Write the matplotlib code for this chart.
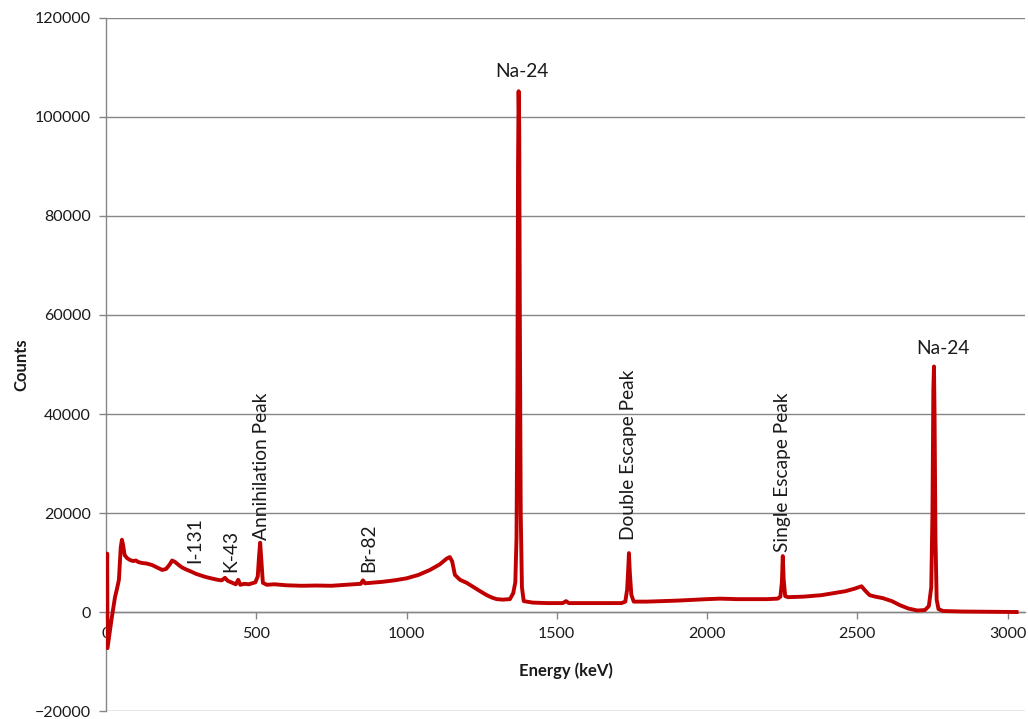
import matplotlib.pyplot as plt

plt.rcParams['font.family'] = ['Lato', 'DejaVu Sans']

# spectrum (keV, counts)
energy = [0, 4, 5, 19, 30, 37, 43, 49, 53, 57, 62, 70, 80, 90, 100, 107, 120,
          135, 153, 170, 187, 200, 212, 220, 230, 242, 253, 270, 286, 300,
          315, 330, 350, 372, 385, 396, 405, 420, 432, 440, 447, 460, 475,
          497, 505, 509, 513, 517, 522, 535, 560, 600, 650, 700, 750, 800,
          830, 848, 855, 862, 880, 920, 960, 1000, 1040, 1078, 1110, 1134,
          1144, 1152, 1161, 1178, 1200, 1221, 1245, 1267, 1285, 1300, 1320,
          1344, 1355, 1362, 1366, 1369, 1371, 1373, 1375, 1377, 1380, 1384,
          1390, 1420, 1470, 1520, 1531, 1540, 1600, 1660, 1715, 1728, 1734,
          1738, 1740, 1743, 1748, 1756, 1800, 1900, 2000, 2043, 2100, 2199,
          2235, 2244, 2249, 2252, 2255, 2260, 2270, 2320, 2380, 2419, 2460,
          2490, 2505, 2514, 2525, 2541, 2560, 2585, 2615, 2641, 2670, 2700,
          2725, 2738, 2746, 2750, 2753, 2755, 2757, 2760, 2764, 2770, 2785,
          2850, 2950, 3030]
counts = [0, 11800, -7300, -1250, 3000, 4800, 6500, 13000, 14600, 13500,
          11500, 10900, 10500, 10300, 10400, 10100, 9900, 9800, 9500, 9000,
          8500, 8700, 9600, 10400, 10100, 9500, 9000, 8500, 8100, 7700, 7400,
          7100, 6800, 6500, 6400, 6900, 6300, 5900, 5600, 6500, 5500, 5700,
          5600, 6000, 7200, 11000, 14000, 10500, 5900, 5500, 5600, 5400,
          5300, 5350, 5300, 5500, 5600, 5700, 6400, 5800, 5900, 6100, 6400,
          6800, 7500, 8500, 9600, 10800, 11100, 10200, 7500, 6500, 5900,
          5100, 4200, 3400, 2900, 2600, 2500, 2600, 3800, 6000, 15000, 45000,
          90000, 105200, 98000, 60000, 20000, 5000, 2200, 1900, 1800, 1800,
          2200, 1800, 1800, 1800, 1800, 2100, 4500, 9000, 11900, 8000, 3500,
          2100, 2100, 2300, 2600, 2700, 2600, 2600, 2700, 3100, 6000, 11300,
          6500, 3200, 3000, 3100, 3400, 3800, 4200, 4700, 5000, 5200, 4400,
          3400, 3100, 2800, 2200, 1400, 700, 300, 400, 1200, 5000, 20000,
          45000, 49600, 40000, 15000, 2500, 600, 200, 100, 50, 0]

# labels: text, energy, counts, rotation
labels = ['I-131', 'K-43', 'Annihilation Peak', 'Br-82', 'Na-24',
          'Double Escape Peak', 'Single Escape Peak', 'Na-24']
label_e = [297, 414, 518, 873, 1384, 1739, 2250, 2785]
label_c = [9900, 8100, 14600, 8100, 107500, 14600, 12100, 51500]
label_rot = [90, 90, 90, 90, 0, 90, 90, 0]

grey = '#868686'

fig = plt.figure(figsize=(10.28, 7.19), dpi=100)
ax = fig.add_axes([0.1031, 0.0111, 0.894, 0.9639])

ax.plot(energy, counts, color='#C00000', lw=2.8, solid_joinstyle='round',
        zorder=3)

for t, e, c, r in zip(labels, label_e, label_c, label_rot):
    ax.text(e, c, t, rotation=r, ha='center', va='bottom', fontsize=13.8,
            color='#1a1a1a', zorder=4)

ax.set_xlim(0, 3058)
ax.set_ylim(-20000, 120000)
ax.set_xticks(range(0, 3001, 500))
ax.set_yticks(range(-20000, 120001, 20000))

ax.grid(axis='y', color=grey, lw=1)
ax.set_axisbelow(True)

ax.spines['top'].set_visible(False)
ax.spines['right'].set_visible(False)
ax.spines['bottom'].set_position(('data', 0))
for s in ['left', 'bottom']:
    ax.spines[s].set_color(grey)
    ax.spines[s].set_linewidth(1)

ax.tick_params(axis='both', colors=grey, labelcolor='#1a1a1a',
               labelsize=11.5, length=5, width=1)
ax.tick_params(axis='y', pad=6)
ax.tick_params(axis='x', pad=6)

ax.set_xlabel('Energy (keV)', fontsize=12, fontweight='bold',
              color='#1a1a1a')
ax.xaxis.set_label_coords(0.5, 0.07)
ax.set_ylabel('Counts', fontsize=12, fontweight='bold', color='#1a1a1a')
ax.yaxis.set_label_coords(-0.083, 0.5)

fig.savefig('out.png', dpi=100)
